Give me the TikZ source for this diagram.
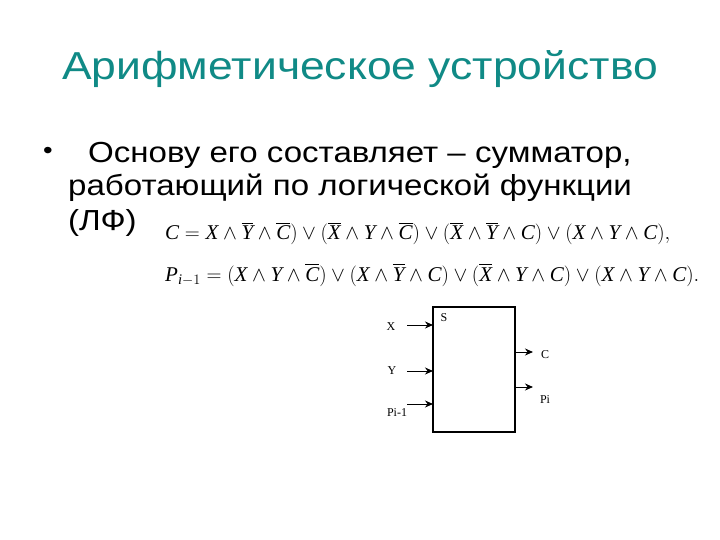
\documentclass[tikz,border=0pt]{standalone}
\usepackage{amsmath}
\usepackage{fontspec}
\setmainfont[FakeStretch=1.14]{Liberation Sans}
\newfontfamily\tms{Liberation Serif}
\usetikzlibrary{arrows.meta}

\definecolor{titleteal}{RGB}{16,138,134}
\newcommand\vr[1]{\text{\tms\itshape #1}}
\newcommand\nv[1]{\overline{\vr{#1}}}

\begin{document}
\begin{tikzpicture}[x=1pt,y=-1pt,
    sig/.style={font=\tms\fontsize{12}{13}\selectfont, inner sep=1pt},
    arr/.style={-{Stealth[length=8pt,width=7pt]}, line width=1pt},
    line/.style={anchor=base west, inner sep=0pt, font=\fontsize{29}{32}\selectfont}]
            \useasboundingbox (0,0) rectangle (720,540);
            \node (title) [anchor=base, text=titleteal, inner sep=0pt,
                font=\fontsize{39}{42}\selectfont] at (360,80) {Арифметическое устройство};

            \node (dot) [inner sep=0pt, font=\fontsize{24}{26}\selectfont] at (48,153) {•};
            \node (l1) [line] at (88,163) {Основу его составляет – сумматор,};
            \node (l2) [line] at (68,196) {работающий по логической функции};
            \node (l3) [line] at (68,230) {(ЛФ)};

            \node (fc) [anchor=base west, inner sep=0pt, font=\fontsize{21}{24}\selectfont] at (165,240)
                {$\vr{C}=\vr{X}\wedge\nv{Y}\wedge\nv{C})\vee(\nv{X}\wedge\vr{Y}\wedge\nv{C})\vee(\nv{X}\wedge\nv{Y}\wedge\vr{C})\vee(\vr{X}\wedge\vr{Y}\wedge\vr{C}),$};
            \node (fp) [anchor=base west, inner sep=0pt, font=\fontsize{21}{24}\selectfont] at (165,281)
                {$\vr{P}_{\vr{i}-1}=(\vr{X}\wedge\vr{Y}\wedge\nv{C})\vee(\vr{X}\wedge\nv{Y}\wedge\vr{C})\vee(\nv{X}\wedge\vr{Y}\wedge\vr{C})\vee(\vr{X}\wedge\vr{Y}\wedge\vr{C}).$};

            % summator block
            \node (sum) [draw, line width=1.6pt, minimum width=82pt, minimum height=125pt,
                outer sep=0pt, anchor=north west] at (433,307) {};
            \node (s) [sig] at (444,318) {S};

            \coordinate (inX) at (407,325);
            \coordinate (inY) at (407,371);
            \coordinate (inP) at (407,404);
            \coordinate (outC) at (533,352);
            \coordinate (outP) at (533,387);

            \node (lX) [sig] at (391,327) {X};
            \node (lY) [sig] at (392,371) {Y};
            \node (lP) [sig] at (397,413) {Pi-1};
            \node (lC) [sig] at (545,355) {C};
            \node (lPi) [sig] at (545,400) {Pi};

            \draw[arr] (inX) -- (inX -| sum.west);
            \draw[arr] (inY) -- (inY -| sum.west);
            \draw[arr] (inP) -- (inP -| sum.west);
            \draw[arr] (outC -| sum.east) -- (outC);
            \draw[arr] (outP -| sum.east) -- (outP);
        \end{tikzpicture}
\end{document}
